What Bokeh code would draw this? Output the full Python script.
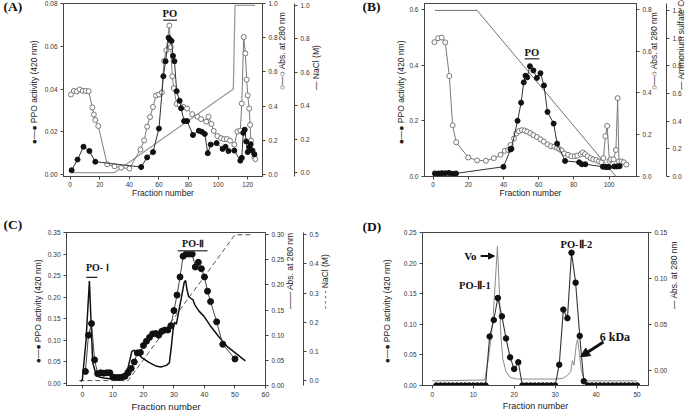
import math
from bokeh.plotting import figure
from bokeh.models import (Range1d, LinearAxis, FixedTicker, NumeralTickFormatter,
                          Label, Arrow, NormalHead)
from bokeh.layouts import row, column
from bokeh.embed import file_html
from bokeh.resources import INLINE

SANS = "Liberation Sans"
SERIF = "Liberation Serif"

# ---------------- (A) anion exchange ----------------
A_ppo_frac = [1, 5, 9, 13, 17, 48, 52, 56, 60, 63, 64.5, 66.5, 67.5, 68.5, 69.5, 70.5,
              72, 74, 75, 77, 79, 83, 87, 89, 91, 93, 95, 99, 103, 105, 107, 111,
              115, 116, 117, 118, 119, 120, 121, 122, 123, 124.5]
A_ppo = [0.002, 0.007, 0.013, 0.011, 0.006, 0.0035, 0.008, 0.0105, 0.0215, 0.046,
         0.053, 0.064, 0.063, 0.0625, 0.0555, 0.053, 0.039, 0.0345, 0.031, 0.025,
         0.025, 0.0185, 0.0205, 0.020, 0.019, 0.010, 0.014, 0.0147, 0.012, 0.013,
         0.011, 0.0112, 0.0065, 0.0078, 0.0195, 0.021, 0.0155, 0.0105, 0.0128,
         0.0142, 0.0112, 0.0095]
A_abs_frac = [0.5, 2.5, 4.5, 6.5, 8.5, 10.5, 12.5, 15, 16, 17, 19, 25, 30, 34.5, 40,
              47.5, 50, 52, 54, 56, 58, 60, 62, 63.5, 65, 67, 68, 69, 70, 72, 74,
              76.5, 79, 82.5, 86, 88.5, 92, 93.5, 95.5, 97, 99.5, 102, 104, 106, 108,
              111, 113, 115, 116, 117.3, 118.4, 119.3, 120, 121, 121.6, 122.2, 123.4,
              124.5, 125.2]
A_abs = [0.468, 0.489, 0.486, 0.497, 0.489, 0.489, 0.487, 0.392, 0.351, 0.319, 0.284,
         0.060, 0.048, 0.040, 0.035, 0.146, 0.200, 0.280, 0.336, 0.395, 0.462, 0.468,
         0.480, 0.664, 0.727, 0.871, 0.745, 0.574, 0.505, 0.413, 0.409, 0.395, 0.386,
         0.353, 0.338, 0.324, 0.309, 0.338, 0.296, 0.255, 0.225, 0.213, 0.207, 0.207,
         0.198, 0.175, 0.251, 0.257, 0.415, 0.804, 0.708, 0.555, 0.463, 0.386, 0.290,
         0.198, 0.140, 0.100, 0.090]
A_nacl_frac = [1, 30, 110.3, 111.4, 125]
A_nacl = [0.0, 0.0, 0.5, 1.0, 1.0]

# ---------------- (B) hydrophobic interaction ----------------
B_ppo_frac = [1, 3, 5, 7, 9, 11, 13, 40, 44, 44.5, 48, 50, 51.5, 52.5, 53.5, 55, 57,
              59, 61, 63, 65, 68.5, 70.5, 75, 83, 84.5, 86.5, 96.5, 98, 99, 100, 103,
              104.5, 106]
B_ppo = [0.011, 0.011, 0.012, 0.012, 0.013, 0.010, 0.011, 0.035, 0.097, 0.100, 0.200,
         0.265, 0.338, 0.362, 0.356, 0.396, 0.381, 0.354, 0.371, 0.327, 0.232, 0.190,
         0.118, 0.056, 0.051, 0.044, 0.044, 0.035, 0.034, 0.034, 0.034, 0.036, 0.036,
         0.037]
B_abs_frac = [0.75, 2.8, 4.9, 6.9, 9.2, 11.1, 13.1, 20, 25, 30, 34.5, 38.3, 40.7, 42.6,
              44, 46, 47.3, 48.8, 50.5, 52, 53.5, 55.3, 57, 59, 61, 62.9, 65, 67, 68.9,
              70.4, 71.7, 73, 74.5, 76.7, 78.6, 80.5, 82, 83.9, 85, 86.3, 87.8, 89.5,
              91, 92.7, 94.2, 95.7, 96.8, 97.9, 98.9, 100.2, 101.1, 102.6, 103.9,
              104.9, 105.6, 107.1, 108.4, 109.8]
B_abs = [0.643, 0.662, 0.665, 0.642, 0.481, 0.245, 0.164, 0.091, 0.077, 0.075, 0.088,
         0.104, 0.123, 0.127, 0.151, 0.182, 0.206, 0.217, 0.222, 0.220, 0.215, 0.207,
         0.198, 0.189, 0.178, 0.167, 0.154, 0.145, 0.143, 0.137, 0.132, 0.124, 0.110,
         0.104, 0.097, 0.097, 0.100, 0.107, 0.115, 0.107, 0.097, 0.088, 0.082, 0.079,
         0.072, 0.068, 0.088, 0.193, 0.242, 0.075, 0.082, 0.082, 0.127, 0.375, 0.072,
         0.072, 0.068, 0.057]
B_as_frac = [1, 25, 104, 110]
B_as = [1.2, 1.2, 0.0, 0.0]

# ---------------- (C) second anion exchange ----------------
C_ppo_frac = [1, 2, 3, 4, 5, 6, 7, 8, 9, 10, 11, 12, 13, 14, 15, 16, 17, 18, 19, 20,
              21, 22, 23, 24, 25, 26, 27, 28, 29, 30, 31, 32, 33, 34, 35, 36, 37, 38,
              39, 40, 41, 42, 44, 46, 50]
C_ppo = [0.028, 0.112, 0.139, 0.055, 0.023, 0.025, 0.024, 0.025, 0.025, 0.015, 0.014,
         0.014, 0.015, 0.017, 0.025, 0.035, 0.050, 0.071, 0.072, 0.088, 0.098, 0.107,
         0.115, 0.116, 0.112, 0.121, 0.124, 0.124, 0.134, 0.169, 0.205, 0.247, 0.295,
         0.300, 0.300, 0.300, 0.270, 0.281, 0.266, 0.247, 0.214, 0.190, 0.143, 0.091,
         0.057]
C_abs_frac = [-0.5, 0, 1.2, 2.3, 3.4, 4.5, 5.5, 7, 9, 11, 13, 14, 15, 16.2, 17, 17.6,
              19.6, 21.8, 24, 25.7, 27.5, 28.5, 29.2, 29.7, 30.2, 30.8, 31.5, 32.5,
              33.4, 33.8, 34.3, 34.8, 35.4, 36.2, 36.8, 38.2, 39.8, 41.9, 44.7, 47.4,
              50.7, 53.4]
C_abs = [0.008, 0.012, 0.09, 0.208, 0.045, 0.022, 0.017, 0.015, 0.0135, 0.0135, 0.017,
         0.026, 0.036, 0.068, 0.070, 0.066, 0.055, 0.046, 0.039, 0.037, 0.040, 0.045,
         0.080, 0.110, 0.126, 0.122, 0.145, 0.177, 0.206, 0.209, 0.190, 0.177, 0.174,
         0.171, 0.161, 0.148, 0.138, 0.119, 0.097, 0.078, 0.062, 0.049]
C_nacl_frac = [-1, 15, 50, 55]
C_nacl = [0.0, 0.0, 0.5, 0.5]

# ---------------- (D) gel filtration ----------------
D_ppo_frac = [1, 2, 3, 4, 5, 6, 7, 8, 9, 10, 11, 12, 13, 14, 15, 16, 17, 18, 19, 20,
              21, 22, 23, 24, 25, 26, 27, 28, 29, 30, 31, 32, 33, 34, 35, 36, 37, 38,
              39, 40, 41, 42, 43, 44, 45, 46, 47, 48, 49, 50]
D_ppo = [0, 0, 0, 0, 0, 0, 0, 0, 0, 0, 0, 0, 0, 0.080, 0.107, 0.143, 0.113, 0.077,
         0.046, 0.027, 0.038, 0, 0, 0, 0, 0, 0, 0, 0, 0, 0.034, 0.124, 0.110, 0.217,
         0.168, 0.081, 0.007, 0, 0, 0, 0, 0, 0, 0, 0, 0, 0, 0, 0, 0]
D_abs_frac = [0, 12.8, 13.7, 14.4, 14.9, 15.4, 15.9, 16.4, 16.7, 17.2, 18, 19, 20.6,
              30, 32, 33, 33.8, 34.2, 34.6, 35.2, 35.5, 35.9, 36.4, 37, 38, 50]
D_abs = [-0.011, -0.010, 0.013, 0.038, 0.062, 0.098, 0.135, 0.084, 0.041, 0.013,
         -0.001, -0.007, -0.009, -0.009, -0.008, -0.005, -0.001, 0.011, 0.006, 0.030,
         0.034, 0.020, 0.000, -0.008, -0.011, -0.011]


def make_panel(width, height, xr, yr, left, right, top, bottom):
    p = figure(width=width, height=height, x_range=Range1d(*xr), y_range=Range1d(*yr),
               output_backend="svg", toolbar_location=None,
               min_border_left=left, min_border_right=right,
               min_border_top=top, min_border_bottom=bottom)
    p.xgrid.visible = False
    p.ygrid.visible = False
    p.outline_line_color = "#444"
    p.outline_line_width = 1
    p.background_fill_color = "white"
    p.border_fill_color = "white"
    return p


def style_axis(ax, ticks, fmt, label, standoff, label_size="8.5px",
               tick_size="6.5px", right=False, tick_standoff=3):
    ax.ticker = FixedTicker(ticks=ticks)
    ax.formatter = NumeralTickFormatter(format=fmt)
    ax.major_label_text_font = SANS
    ax.major_label_text_font_size = tick_size
    ax.major_label_text_color = "#333"
    ax.major_label_standoff = tick_standoff
    ax.major_tick_out = 3
    ax.major_tick_in = 0
    ax.minor_tick_line_color = None
    ax.axis_line_color = "#444"
    ax.major_tick_line_color = "#444"
    ax.axis_label = label
    ax.axis_label_text_font = SANS
    ax.axis_label_text_font_size = label_size
    ax.axis_label_text_font_style = "normal"
    ax.axis_label_text_color = "#222"
    ax.axis_label_standoff = standoff
    if right:
        ax.axis_label_orientation = math.pi / 2


def gap_axis(p, range_name, gap):
    # empty axis that only pushes the next right-hand axis outward
    ax = LinearAxis(y_range_name=range_name, ticker=FixedTicker(ticks=[]),
                    axis_line_color=None, major_tick_line_color=None,
                    minor_tick_line_color=None, major_tick_out=gap, major_tick_in=0,
                    minor_tick_out=0, minor_tick_in=0, major_label_standoff=0,
                    axis_label=None)
    p.add_layout(ax, "right")


def panel_tag(p, text, offset, standoff):
    t = p.title
    t.text = text
    t.align = "left"
    t.offset = offset
    t.standoff = standoff
    t.vertical_align = "bottom"
    t.text_font = SERIF
    t.text_font_style = "bold"
    t.text_font_size = "13.5px"
    t.text_color = "#111"


def peak_tag(p, text, x, y, size="10.5px"):
    p.add_layout(Label(x=x, y=y, text=text, text_font=SERIF, text_font_style="bold",
                       text_font_size=size, text_align="center",
                       text_baseline="middle", text_color="#111"))


# ================= panel A =================
pA = make_panel(345, 200, (-4.5, 130), (-0.00092, 0.08), 63, 83, 3, 21)
pA.extra_y_ranges = {"abs": Range1d(-0.0115, 1.0), "salt": Range1d(-0.0235, 1.0118)}
style_axis(pA.xaxis[0], [0, 20, 40, 60, 80, 100, 120], "0", "Fraction number", -2,
           tick_standoff=2)
style_axis(pA.yaxis[0], [0, 0.02, 0.04, 0.06, 0.08], "0.00",
           "\u25cf\u2014\u25cf   PPO activity (420 nm)", 3)
axA1 = LinearAxis(y_range_name="abs")
style_axis(axA1, [0, 0.2, 0.4, 0.6, 0.8, 1.0], "0.0",
           "\u25cb\u2014\u25cb   Abs. at 280 nm", 1, right=True)
pA.add_layout(axA1, "right")
gap_axis(pA, "abs", 10)
axA2 = LinearAxis(y_range_name="salt")
style_axis(axA2, [0, 0.2, 0.4, 0.6, 0.8, 1.0], "0.0", "\u2014   NaCl (M)", 3, right=True)
pA.add_layout(axA2, "right")

pA.line(A_nacl_frac, A_nacl, y_range_name="salt", line_color="#9a9a9a", line_width=1.3)
pA.line(A_abs_frac, A_abs, y_range_name="abs", line_color="#7a7a7a", line_width=1)
pA.scatter(A_abs_frac, A_abs, y_range_name="abs", marker="circle", size=5,
           fill_color="white", line_color="#6a6a6a", line_width=0.9)
pA.line(A_ppo_frac, A_ppo, line_color="#333", line_width=1)
pA.scatter(A_ppo_frac, A_ppo, marker="circle", size=5, fill_color="#111",
           line_color="#111")
peak_tag(pA, "PO", 67.4, 0.0752)
pA.segment(x0=[62.8], y0=[0.0722], x1=[72.2], y1=[0.0722], line_color="#555",
           line_width=1.5)
panel_tag(pA, "(A)", -60, -20)

# ================= panel B =================
pB = make_panel(348, 200, (-4.9, 115.6), (0, 0.6212), 79, 55, 3, 21)
pB.extra_y_ranges = {"abs": Range1d(0, 0.8282), "salt": Range1d(0, 1.2497)}
style_axis(pB.xaxis[0], [0, 20, 40, 60, 80, 100], "0", "Fraction number", -2,
           tick_standoff=2)
style_axis(pB.yaxis[0], [0, 0.2, 0.4, 0.6], "0.0",
           "\u25cf\u2014\u25cf   PPO activity (420 nm)", 0)
axB1 = LinearAxis(y_range_name="abs")
style_axis(axB1, [0, 0.2, 0.4, 0.6, 0.8], "0.0",
           "\u25cb\u2014\u25cb   Abs. at 280 nm", -1, right=True)
pB.add_layout(axB1, "right")
gap_axis(pB, "abs", 7)
axB2 = LinearAxis(y_range_name="salt")
style_axis(axB2, [0, 0.2, 0.4, 0.6, 0.8, 1.0, 1.2], "0.0",
           "\u2014   Ammonium sulfate Con. (M)", -4, right=True)
pB.add_layout(axB2, "right")

pB.line(B_as_frac, B_as, y_range_name="salt", line_color="#707070", line_width=1)
pB.line(B_abs_frac, B_abs, y_range_name="abs", line_color="#7a7a7a", line_width=1)
pB.scatter(B_abs_frac, B_abs, y_range_name="abs", marker="circle", size=5,
           fill_color="white", line_color="#6a6a6a", line_width=0.9)
pB.line(B_ppo_frac, B_ppo, line_color="#333", line_width=1)
pB.scatter(B_ppo_frac, B_ppo, marker="circle", size=5, fill_color="#111",
           line_color="#111")
peak_tag(pB, "PO", 56.1, 0.445)
pB.segment(x0=[52.0], y0=[0.4225], x1=[60.4], y1=[0.4225], line_color="#555",
           line_width=1.5)
panel_tag(pB, "(B)", -62, -20)

# ================= panel C =================
pC = make_panel(345, 214, (-5.2, 60), (-0.0045, 0.35), 66, 80, 32, 26)
pC.extra_y_ranges = {"abs": Range1d(0, 0.3044), "salt": Range1d(-0.0168, 0.5077)}
style_axis(pC.xaxis[0], [0, 10, 20, 30, 40, 50, 60], "0", "Fraction number", 1,
           label_size="9.5px", tick_size="7px")
style_axis(pC.yaxis[0], [0, 0.05, 0.10, 0.15, 0.20, 0.25, 0.30, 0.35], "0.00",
           "\u25cf\u2014\u25cf   PPO activity (420 nm)", 2)
axC1 = LinearAxis(y_range_name="abs")
style_axis(axC1, [0, 0.05, 0.10, 0.15, 0.20, 0.25, 0.30], "0.00",
           "\u2014\u2014   Abs. at 280 nm", 3, right=True)
pC.add_layout(axC1, "right")
gap_axis(pC, "abs", 14)
axC2 = LinearAxis(y_range_name="salt")
style_axis(axC2, [0, 0.1, 0.2, 0.3, 0.4, 0.5], "0.0", "- - - -   NaCl (M)", 3,
           right=True)
pC.add_layout(axC2, "right")

pC.line(C_nacl_frac, C_nacl, y_range_name="salt", line_color="#555",
        line_width=1, line_dash="5 3")
pC.line(C_abs_frac, C_abs, y_range_name="abs", line_color="#111", line_width=1.5)
pC.line(C_ppo_frac, C_ppo, line_color="#444", line_width=1)
pC.scatter(C_ppo_frac, C_ppo, marker="circle", size=6, fill_color="#111",
           line_color="#111")
peak_tag(pC, "PO- \u2160", 4.9, 0.268, size="10px")
pC.segment(x0=[1.3], y0=[0.246], x1=[4.9], y1=[0.246], line_color="#222",
           line_width=1.3)
peak_tag(pC, "PO-\u2161", 36.3, 0.325, size="10px")
pC.segment(x0=[31.2], y0=[0.308], x1=[41.0], y1=[0.308], line_color="#555",
           line_width=1.5)
panel_tag(pC, "(C)", -63, 2)

# ================= panel D =================
pD = make_panel(348, 214, (-2.4, 52.8), (0, 0.25), 77, 45, 32, 26)
pD.extra_y_ranges = {"abs": Range1d(-0.016, 0.15)}
style_axis(pD.xaxis[0], [0, 10, 20, 30, 40, 50], "0", "Fraction number", 1,
           label_size="9px")
style_axis(pD.yaxis[0], [0, 0.05, 0.10, 0.15, 0.20, 0.25], "0.00",
           "\u25cf\u2014\u25cf   PPO activity (420 nm)", 9)
axD1 = LinearAxis(y_range_name="abs")
style_axis(axD1, [0, 0.05, 0.10, 0.15], "0.00", "\u2014   Abs. at 280 nm", 4,
           right=True)
pD.add_layout(axD1, "right")

pD.line(D_abs_frac, D_abs, y_range_name="abs", line_color="#8a8a8a", line_width=1)
pD.line(D_ppo_frac, D_ppo, line_color="#333", line_width=1.1)
pD.scatter(D_ppo_frac, D_ppo, marker="circle", size=5.5, fill_color="#111",
           line_color="#111")
peak_tag(pD, "Vo", 9.3, 0.2115, size="11px")
pD.add_layout(Arrow(end=NormalHead(size=6, fill_color="#111", line_color="#111"),
                    x_start=11.8, y_start=0.2115, x_end=15.2, y_end=0.2115,
                    line_color="#111", line_width=2))
peak_tag(pD, "PO-\u2161-1", 10.4, 0.164, size="10.5px")
peak_tag(pD, "PO-\u2161-2", 35.2, 0.231, size="10.5px")
peak_tag(pD, "6 kDa", 44.6, 0.079, size="12px")
pD.add_layout(Arrow(end=NormalHead(size=9, fill_color="#111", line_color="#111"),
                    x_start=41.8, y_start=0.071, x_end=36.2, y_end=0.047,
                    line_color="#111", line_width=3))
panel_tag(pD, "(D)", -60, -2)

layout = column(row(pA, pB), row(pC, pD))

with open("out.html", "w") as f:
    f.write(file_html(layout, INLINE))
